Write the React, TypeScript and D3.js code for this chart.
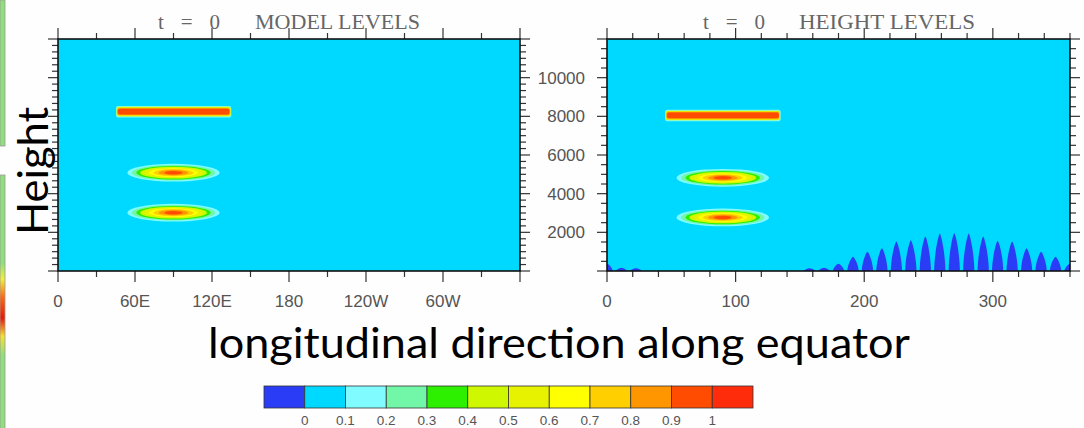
import React from 'react';
import * as d3 from 'd3';

// ---------- data ----------
const levels = [0, 0.1, 0.2, 0.3, 0.4, 0.5, 0.6, 0.7, 0.8, 0.9, 1];
const levelLabels = ['0', '0.1', '0.2', '0.3', '0.4', '0.5', '0.6', '0.7', '0.8', '0.9', '1'];
const fillColors = ['#2a3cf5', '#00d9ff', '#80fbff', '#72f7a8', '#2cf000', '#cff800', '#e6f200', '#ffff00', '#ffcf00', '#ff9600', '#ff4c00', '#ff2c0c'];

const leftLonTicks = [0, 60, 120, 180, 240, 300];
const leftLonLabels = ['0', '60E', '120E', '180', '120W', '60W'];
const rightLonTicks = [0, 100, 200, 300];
const rightLonLabels = ['0', '100', '200', '300'];
const heightTicks = [2000, 4000, 6000, 8000, 10000];
const heightLabels = ['2000', '4000', '6000', '8000', '10000'];

// thin slab tracer: nested contour bands (level, lon range, half thickness in m)
const slabLevels = [0.1, 0.4, 0.7, 0.8, 0.9];
const slabLon0 = [45.2, 45.6, 46.0, 46.3, 46.6];
const slabLon1 = [135.0, 134.6, 134.2, 133.9, 133.6];
const slabHalfH = [300, 250, 205, 175, 150];

// cosine-bell tracers: nested contour bands (level, half width deg, half height m)
const blobLevels = [0.1, 0.2, 0.3, 0.4, 0.5, 0.6, 0.7, 0.8, 0.9];
const blobHalfLon = [36, 32.5, 29, 26, 22.5, 19, 15.5, 11.5, 7];
const blobHalfH = [460, 400, 350, 305, 265, 225, 185, 140, 90];
const blobCenterLon = 90;

const leftSlabHeight = 8240;
const leftBlobHeights = [5085, 3016];
const rightSlabHeight = 8045;
const rightBlobHeights = [4820, 2770];

// topography (below-ground region) peaks on the height-level panel
const mountainLon = [0, 11.25, 22.5, 157.5, 168.75, 180, 191.25, 202.5, 213.75, 225, 236.25, 247.5, 258.75, 270, 281.25, 292.5, 303.75, 315, 326.25, 337.5, 348.75, 360];
const mountainHeight = [380, 170, 140, 140, 170, 380, 740, 990, 1180, 1520, 1590, 1780, 1940, 1960, 1940, 1780, 1560, 1520, 1180, 990, 740, 380];

// ---------- layout ----------
const W = 1084, H = 428;
const yScale = d3.scaleLinear().domain([0, 12000]).range([271, 39]);
const xLeft = d3.scaleLinear().domain([0, 360]).range([58, 520]);
const xRight = d3.scaleLinear().domain([0, 360]).range([607, 1070]);
const MAJ = 11, MIN = 6;
const tickColor = '#333';
const labelColor = '#555';
const cyan = fillColors[1];

function colorFor(level: number) {
  const i = levels.findIndex((l) => Math.abs(l - level) < 1e-9);
  return fillColors[i + 1];
}

function Tracers({ x, slabH, blobHs }: { x: d3.ScaleLinear<number, number>; slabH: number; blobHs: number[] }) {
  return (
    <g>
      {slabLevels.map((lv, i) => {
        const y0 = yScale(slabH + slabHalfH[i]);
        const y1 = yScale(slabH - slabHalfH[i]);
        return (
          <rect key={'s' + i} x={x(slabLon0[i])} y={y0} width={x(slabLon1[i]) - x(slabLon0[i])} height={y1 - y0}
            rx={2} fill={colorFor(lv)} />
        );
      })}
      {blobHs.map((bh, j) => (
        <g key={'b' + j}>
          {blobLevels.map((lv, i) => (
            <ellipse key={i} cx={x(blobCenterLon)} cy={yScale(bh)}
              rx={x(blobCenterLon + blobHalfLon[i]) - x(blobCenterLon)}
              ry={yScale(bh - blobHalfH[i]) - yScale(bh)} fill={colorFor(lv)} />
          ))}
        </g>
      ))}
    </g>
  );
}

function Frame({ x, majorLon, minorLon, yMinorStep }: { x: d3.ScaleLinear<number, number>; majorLon: number[]; minorLon: number[]; yMinorStep: number }) {
  const [x0, x1] = x.range();
  const yTop = yScale(12000), yBot = yScale(0);
  const yMaj = d3.range(0, 12001, 2000);
  const yMin = d3.range(0, 12000.1, yMinorStep).filter((v) => Math.abs(v % 2000) > 1 && Math.abs((v % 2000) - 2000) > 1);
  return (
    <g stroke={tickColor} strokeWidth={1.2}>
      {majorLon.map((v) => (
        <g key={'M' + v}>
          <line x1={x(v)} x2={x(v)} y1={yBot} y2={yBot + MAJ} />
          <line x1={x(v)} x2={x(v)} y1={yTop} y2={yTop - MAJ} />
        </g>
      ))}
      {minorLon.map((v) => (
        <g key={'m' + v}>
          <line x1={x(v)} x2={x(v)} y1={yBot} y2={yBot + MIN} />
          <line x1={x(v)} x2={x(v)} y1={yTop} y2={yTop - MIN} />
        </g>
      ))}
      {yMaj.map((v) => (
        <g key={'Y' + v}>
          <line x1={x0} x2={x0 - MAJ + 1} y1={yScale(v)} y2={yScale(v)} />
          <line x1={x1} x2={x1 + MAJ - 1} y1={yScale(v)} y2={yScale(v)} />
        </g>
      ))}
      {yMin.map((v) => (
        <g key={'y' + v}>
          <line x1={x0} x2={x0 - MIN} y1={yScale(v)} y2={yScale(v)} />
          <line x1={x1} x2={x1 + MIN} y1={yScale(v)} y2={yScale(v)} />
        </g>
      ))}
      <rect x={x0} y={yTop} width={x1 - x0} height={yBot - yTop} fill="none" stroke="#111" strokeWidth={1.6} />
    </g>
  );
}

function bumpPath(cx: number, base: number, top: number, w: number) {
  const h = base - top;
  return `M${cx - w},${base} C${cx - 0.95 * w},${base - 0.45 * h} ${cx - 0.3 * w},${top + 0.05 * h} ${cx},${top} ` +
    `C${cx + 0.3 * w},${top + 0.05 * h} ${cx + 0.95 * w},${base - 0.45 * h} ${cx + w},${base} Z`;
}

export default function App() {
  const yTop = yScale(12000), yBot = yScale(0);
  const bumpHalfW = xRight(4.4) - xRight(0);
  const titleStyle: React.CSSProperties = { fontFamily: '"Liberation Serif", serif', fontSize: 21, fill: '#666', whiteSpace: 'pre' };
  const tickFont: React.CSSProperties = { fontFamily: '"Liberation Sans", Arial, sans-serif', fontSize: 17, fill: labelColor };
  const band = d3.scaleBand<number>().domain(d3.range(fillColors.length)).range([264, 753]);

  return (
    <svg width={W} height={H} style={{ position: 'absolute', left: 0, top: 0, background: '#fff' }}>
      <defs>
        <clipPath id="clipL"><rect x={xLeft(0)} y={yTop} width={xLeft(360) - xLeft(0)} height={yBot - yTop} /></clipPath>
        <clipPath id="clipR"><rect x={xRight(0)} y={yTop} width={xRight(360) - xRight(0)} height={yBot - yTop} /></clipPath>
        <linearGradient id="strip" x1="0" y1="0" x2="0" y2="1">
          <stop offset="0" stopColor="#90e07a" />
          <stop offset="0.34" stopColor="#90e07a" />
          <stop offset="0.40" stopColor="#f0f040" />
          <stop offset="0.47" stopColor="#ff6a10" />
          <stop offset="0.55" stopColor="#e81808" />
          <stop offset="0.62" stopColor="#f8e030" />
          <stop offset="0.69" stopColor="#90e07a" />
          <stop offset="1" stopColor="#90e07a" />
        </linearGradient>
      </defs>
      <rect x={0} y={0} width={W} height={H} fill="#fefefe" />

      {/* left edge strip */}
      <rect x={0} y={0} width={5} height={146} fill="#90e07a" stroke="#999" strokeWidth={0.8} />
      <rect x={0} y={175} width={5} height={260} fill="url(#strip)" stroke="#999" strokeWidth={0.8} />

      {/* left panel */}
      <rect x={xLeft(0)} y={yTop} width={xLeft(360) - xLeft(0)} height={yBot - yTop} fill={cyan} />
      <g clipPath="url(#clipL)">
        <Tracers x={xLeft} slabH={leftSlabHeight} blobHs={leftBlobHeights} />
      </g>
      <Frame x={xLeft} majorLon={[...leftLonTicks, 360]} minorLon={d3.range(30, 360, 60)} yMinorStep={2000 / 6} />
      {leftLonTicks.map((v, i) => (
        <text key={v} x={xLeft(v)} y={307} textAnchor="middle" style={tickFont}>{leftLonLabels[i]}</text>
      ))}
      <text x={158} y={29} textLength={62} lengthAdjust="spacing" style={titleStyle}>t = 0</text>
      <text x={255} y={29} textLength={165} lengthAdjust="spacingAndGlyphs" style={titleStyle}>MODEL LEVELS</text>

      {/* right panel */}
      <rect x={xRight(0)} y={yTop} width={xRight(360) - xRight(0)} height={yBot - yTop} fill={cyan} />
      <g clipPath="url(#clipR)">
        <Tracers x={xRight} slabH={rightSlabHeight} blobHs={rightBlobHeights} />
        {mountainLon.map((lon, i) => (
          <path key={i} d={bumpPath(xRight(lon), yBot, yScale(mountainHeight[i]), bumpHalfW)} fill={fillColors[0]} />
        ))}
      </g>
      <Frame x={xRight} majorLon={[...rightLonTicks]} minorLon={d3.range(20, 361, 20).filter((v) => v % 100 !== 0)} yMinorStep={500} />
      {rightLonTicks.map((v, i) => (
        <text key={v} x={xRight(v)} y={307} textAnchor="middle" style={tickFont}>{rightLonLabels[i]}</text>
      ))}
      {heightTicks.map((v, i) => (
        <text key={v} x={585} y={yScale(v) + 6} textAnchor="end" style={tickFont}>{heightLabels[i]}</text>
      ))}
      <text x={703} y={29} textLength={62} lengthAdjust="spacing" style={titleStyle}>t = 0</text>
      <text x={799} y={29} textLength={176} lengthAdjust="spacingAndGlyphs" style={titleStyle}>HEIGHT LEVELS</text>

      {/* axis titles */}
      <text x={559} y={358} textAnchor="middle" textLength={702} lengthAdjust="spacingAndGlyphs"
        style={{ fontFamily: 'Lato, "Open Sans", sans-serif', fontSize: 42, fill: '#000' }}>
        longitudinal direction along equator
      </text>
      <text transform="translate(48,235) rotate(-90)" x={0} y={0} textLength={128} lengthAdjust="spacingAndGlyphs"
        style={{ fontFamily: 'Lato, "Open Sans", sans-serif', fontSize: 42, fill: '#000' }}>
        Height
      </text>

      {/* colorbar */}
      {fillColors.map((c, i) => (
        <rect key={i} x={band(i)} y={386} width={band.bandwidth()} height={22} fill={c} stroke="#333" strokeWidth={0.8} />
      ))}
      {levels.map((lv, i) => (
        <text key={lv} x={(band(i + 1) as number)} y={425} textAnchor="middle"
          style={{ fontFamily: '"Liberation Sans", Arial, sans-serif', fontSize: 13.5, fill: labelColor }}>
          {levelLabels[i]}
        </text>
      ))}
    </svg>
  );
}
